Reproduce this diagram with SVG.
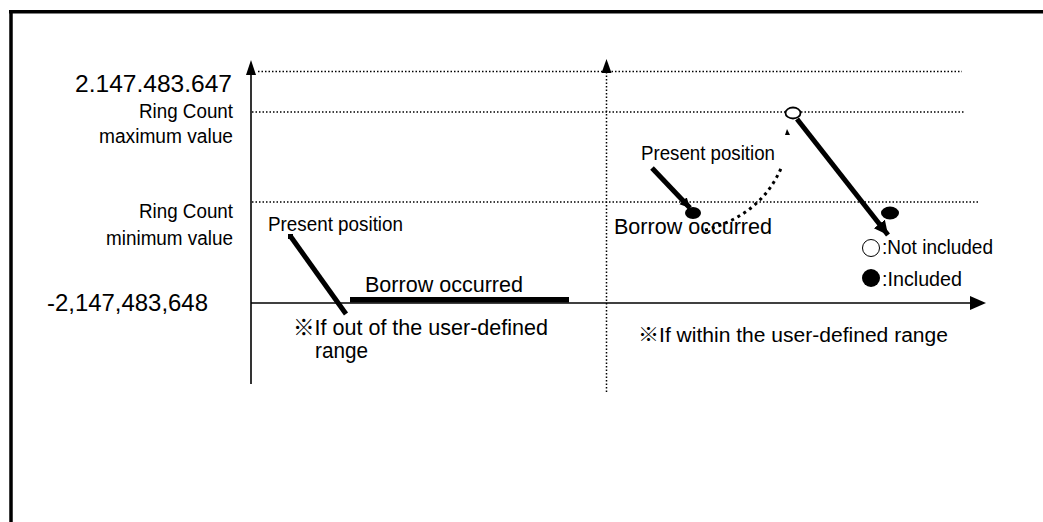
<svg xmlns="http://www.w3.org/2000/svg" width="1043" height="522" viewBox="0 0 1043 522">
<style>
.t{font-family:"Liberation Sans",Arial,"Noto Sans CJK JP",sans-serif;fill:#000}
.cjk{font-family:"Noto Sans CJK JP","Liberation Sans",sans-serif}
.dot{stroke:#000;stroke-width:1.5;stroke-dasharray:1.5 2;fill:none}
.curve{stroke:#000;stroke-width:3;stroke-dasharray:3 4;fill:none}
.thick{stroke:#000;stroke-width:5;fill:none}
.axis{stroke:#000;stroke-width:1.6;fill:none}
</style>
<defs>
<marker id="ah" markerUnits="userSpaceOnUse" markerWidth="16" markerHeight="16" refX="14" refY="7" orient="auto">
<path d="M0,0 L14,7 L0,14 Z" fill="#000"/>
</marker>
<marker id="ahs" markerUnits="userSpaceOnUse" markerWidth="12" markerHeight="12" refX="10" refY="5" orient="auto">
<path d="M0,0 L10,5 L0,10 Z" fill="#000"/>
</marker>
</defs>
<rect width="1043" height="522" fill="#fff"/>
<g id="frame">
<line x1="9" y1="11.7" x2="1043" y2="11.7" stroke="#000" stroke-width="3.5"/>
<line x1="11" y1="10" x2="11" y2="522" stroke="#000" stroke-width="3.5"/>
</g>
<g id="guides">
<line class="dot" x1="258" y1="71.5" x2="962" y2="71.5"/>
<line class="dot" x1="252" y1="112" x2="786" y2="112"/>
<line class="dot" x1="801" y1="112" x2="965" y2="112"/>
<line class="dot" x1="252" y1="202" x2="980" y2="202"/>
<line class="dot" x1="606.5" y1="72" x2="606.5" y2="394"/>
</g>
<g id="axes">
<line class="axis" x1="251" y1="72" x2="251" y2="384"/>
<path d="M251,60 L256,75 L246,75 Z" fill="#000"/>
<path d="M606.5,59 L611.5,73 L601.5,73 Z" fill="#000"/>
<line class="axis" x1="251" y1="303" x2="972" y2="303"/>
<path d="M986,303 L970,296 L970,310 Z" fill="#000"/>
</g>
<g id="y-labels">
<text class="t" x="75" y="92" font-size="24" textLength="157" lengthAdjust="spacingAndGlyphs">2.147.483.647</text>
<text class="t" x="139" y="118" font-size="19.5" textLength="94" lengthAdjust="spacingAndGlyphs">Ring Count</text>
<text class="t" x="99" y="143" font-size="19.5" textLength="134" lengthAdjust="spacingAndGlyphs">maximum value</text>
<text class="t" x="139" y="218" font-size="19.5" textLength="94" lengthAdjust="spacingAndGlyphs">Ring Count</text>
<text class="t" x="106" y="245" font-size="19.5" textLength="127" lengthAdjust="spacingAndGlyphs">minimum value</text>
<text class="t" x="47" y="311" font-size="24" textLength="161" lengthAdjust="spacingAndGlyphs">-2,147,483,648</text>
</g>
<g id="left-case">
<text class="t" x="268" y="231" font-size="20" textLength="135" lengthAdjust="spacingAndGlyphs">Present position</text>
<line class="thick" x1="291" y1="237" x2="346" y2="314"/>
<rect x="288" y="234" width="5" height="5" fill="#000"/>
<rect x="350" y="297" width="219" height="5.5" fill="#000"/>
<text class="t" x="365" y="292" font-size="21.5" textLength="158" lengthAdjust="spacingAndGlyphs">Borrow occurred</text>
<text class="t" x="293" y="335" font-size="21.5" textLength="255" lengthAdjust="spacingAndGlyphs"><tspan class="cjk">※</tspan>If out of the user-defined</text>
<text class="t" x="315" y="358" font-size="21.5" textLength="53" lengthAdjust="spacingAndGlyphs">range</text>
</g>
<g id="right-case">
<text class="t" x="641" y="160" font-size="20" textLength="134" lengthAdjust="spacingAndGlyphs">Present position</text>
<line class="thick" x1="652" y1="168" x2="690" y2="208" marker-end="url(#ahs)"/>
<ellipse cx="693" cy="213" rx="8" ry="6" fill="#000"/>
<text class="t" x="614" y="234" font-size="21.5" textLength="158" lengthAdjust="spacingAndGlyphs">Borrow occurred</text>
<path class="curve" d="M705,230 Q762,215 782,166"/>
<path d="M787,129 L790,135 L785,135 Z" fill="#000"/>
<ellipse cx="793" cy="113" rx="7.5" ry="5.5" fill="#fff" stroke="#000" stroke-width="1.8"/>
<line class="thick" x1="797" y1="119" x2="888" y2="235" marker-end="url(#ah)"/>
<ellipse cx="890" cy="213" rx="9" ry="6.5" fill="#000"/>
<text class="t" x="638" y="342" font-size="20" textLength="310" lengthAdjust="spacingAndGlyphs"><tspan class="cjk">※</tspan>If within the user-defined range</text>
</g>
<g id="legend">
<circle cx="871" cy="248" r="8.5" fill="#fff" stroke="#000" stroke-width="1"/>
<text class="t" x="882" y="254" font-size="20" textLength="111" lengthAdjust="spacingAndGlyphs">:Not included</text>
<circle cx="871" cy="278" r="9" fill="#000"/>
<text class="t" x="882" y="286" font-size="20" textLength="80" lengthAdjust="spacingAndGlyphs">:Included</text>
</g>
</svg>
